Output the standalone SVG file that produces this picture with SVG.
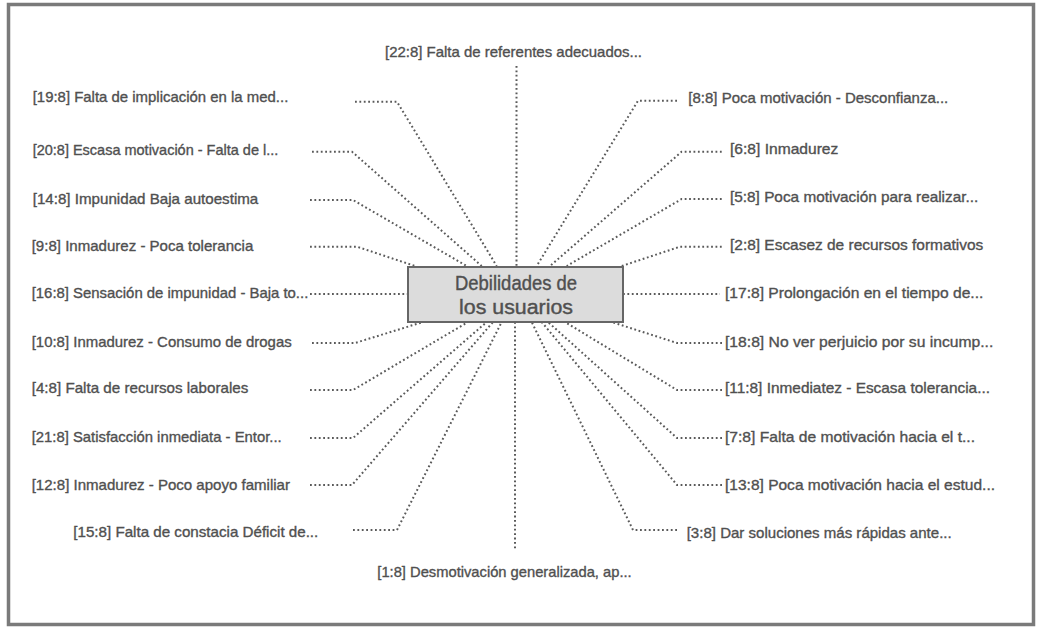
<svg xmlns="http://www.w3.org/2000/svg" width="1040" height="627" viewBox="0 0 1040 627">
<style>
.lbl{font-family:"Liberation Sans",Arial,sans-serif;font-size:15px;fill:#505050;stroke:#505050;stroke-width:0.35;}
.ttl{font-family:"Liberation Sans",Arial,sans-serif;font-size:20.5px;fill:#505050;stroke:#505050;stroke-width:0.4;text-anchor:middle;}
.con{fill:none;stroke:#5a5a5a;stroke-width:2;stroke-dasharray:1.8 2.6;}
</style>
<rect x="0" y="0" width="1040" height="627" fill="#fff"/>
<rect x="8.5" y="4.5" width="1025" height="620" fill="#fff" stroke="#7a7a7a" stroke-width="3.5"/>
<g id="connectors">
<polyline class="con" points="355,101.7 397,101.7 496.7,266"/>
<polyline class="con" points="312,151.7 352,151.7 481.7,266"/>
<polyline class="con" points="310,200 353,200 466.7,266"/>
<polyline class="con" points="310,246.7 357,246.7 415,266"/>
<polyline class="con" points="310,294 408,294"/>
<polyline class="con" points="312,343 355,343 423,322"/>
<polyline class="con" points="310,390 353,390 468,322"/>
<polyline class="con" points="310,438 353,438 486.7,322"/>
<polyline class="con" points="310,485 352,485 493,322"/>
<polyline class="con" points="353,530 397,530 501.7,322"/>
<polyline class="con" points="516.5,66 516.5,266"/>
<polyline class="con" points="515,322 515,550"/>
<polyline class="con" points="677,100.7 638,100.7 536.7,266"/>
<polyline class="con" points="721.7,151.7 681.7,151.7 550,266"/>
<polyline class="con" points="721.7,199 681.7,199 566.7,266"/>
<polyline class="con" points="721.7,246.7 680,246.7 621.7,266"/>
<polyline class="con" points="623,294 720,294"/>
<polyline class="con" points="722,343 677,343 611.7,322"/>
<polyline class="con" points="722,390 677,390 565,322"/>
<polyline class="con" points="722,438 677,438 548,322"/>
<polyline class="con" points="722,485 677,485 541.7,322"/>
<polyline class="con" points="677,530 633,530 531.7,322"/>
</g>
<g id="center">
<rect x="408" y="267" width="215" height="55" fill="#dcdcdc" stroke="#666" stroke-width="2"/>
<text class="ttl" x="516" y="290" textLength="122" lengthAdjust="spacingAndGlyphs">Debilidades de</text>
<text class="ttl" x="516" y="314" textLength="114" lengthAdjust="spacingAndGlyphs">los usuarios</text>
</g>
<g id="n22"><text class="lbl" x="385" y="57" textLength="257" lengthAdjust="spacingAndGlyphs">[22:8] Falta de referentes adecuados...</text></g>
<g id="n19"><text class="lbl" x="32.7" y="102" textLength="255.6" lengthAdjust="spacingAndGlyphs">[19:8] Falta de implicación en la med...</text></g>
<g id="n20"><text class="lbl" x="32.7" y="155" textLength="245.6" lengthAdjust="spacingAndGlyphs">[20:8] Escasa motivación - Falta de l...</text></g>
<g id="n14"><text class="lbl" x="32.7" y="204" textLength="225.6" lengthAdjust="spacingAndGlyphs">[14:8] Impunidad Baja autoestima</text></g>
<g id="n9"><text class="lbl" x="31.7" y="251" textLength="221.6" lengthAdjust="spacingAndGlyphs">[9:8] Inmadurez - Poca tolerancia</text></g>
<g id="n16"><text class="lbl" x="31.7" y="298" textLength="276.6" lengthAdjust="spacingAndGlyphs">[16:8] Sensación de impunidad - Baja to...</text></g>
<g id="n10"><text class="lbl" x="31.7" y="347" textLength="260" lengthAdjust="spacingAndGlyphs">[10:8] Inmadurez - Consumo de drogas</text></g>
<g id="n4"><text class="lbl" x="31.7" y="393" textLength="216.6" lengthAdjust="spacingAndGlyphs">[4:8] Falta de recursos laborales</text></g>
<g id="n21"><text class="lbl" x="31.7" y="442" textLength="250" lengthAdjust="spacingAndGlyphs">[21:8] Satisfacción inmediata - Entor...</text></g>
<g id="n12"><text class="lbl" x="31.7" y="490" textLength="258.3" lengthAdjust="spacingAndGlyphs">[12:8] Inmadurez - Poco apoyo familiar</text></g>
<g id="n15"><text class="lbl" x="73.3" y="537" textLength="245" lengthAdjust="spacingAndGlyphs">[15:8] Falta de constacia Déficit de...</text></g>
<g id="n8"><text class="lbl" x="688.3" y="103" textLength="260" lengthAdjust="spacingAndGlyphs">[8:8] Poca motivación - Desconfianza...</text></g>
<g id="n6"><text class="lbl" x="730" y="154" textLength="108.3" lengthAdjust="spacingAndGlyphs">[6:8] Inmadurez</text></g>
<g id="n5"><text class="lbl" x="730" y="202" textLength="248.3" lengthAdjust="spacingAndGlyphs">[5:8] Poca motivación para realizar...</text></g>
<g id="n2"><text class="lbl" x="730" y="250" textLength="253.3" lengthAdjust="spacingAndGlyphs">[2:8] Escasez de recursos formativos</text></g>
<g id="n17"><text class="lbl" x="725" y="298" textLength="258.3" lengthAdjust="spacingAndGlyphs">[17:8] Prolongación en el tiempo de...</text></g>
<g id="n18"><text class="lbl" x="725" y="347" textLength="268.3" lengthAdjust="spacingAndGlyphs">[18:8] No ver perjuicio por su incump...</text></g>
<g id="n11"><text class="lbl" x="725" y="393" textLength="265" lengthAdjust="spacingAndGlyphs">[11:8] Inmediatez - Escasa tolerancia...</text></g>
<g id="n7"><text class="lbl" x="725" y="442" textLength="250" lengthAdjust="spacingAndGlyphs">[7:8] Falta de motivación hacia el t...</text></g>
<g id="n13"><text class="lbl" x="725" y="490" textLength="270" lengthAdjust="spacingAndGlyphs">[13:8] Poca motivación hacia el estud...</text></g>
<g id="n3"><text class="lbl" x="686.7" y="538" textLength="265" lengthAdjust="spacingAndGlyphs">[3:8] Dar soluciones más rápidas ante...</text></g>
<g id="n1"><text class="lbl" x="377.3" y="577" textLength="254.4" lengthAdjust="spacingAndGlyphs">[1:8] Desmotivación generalizada, ap...</text></g>
</svg>
